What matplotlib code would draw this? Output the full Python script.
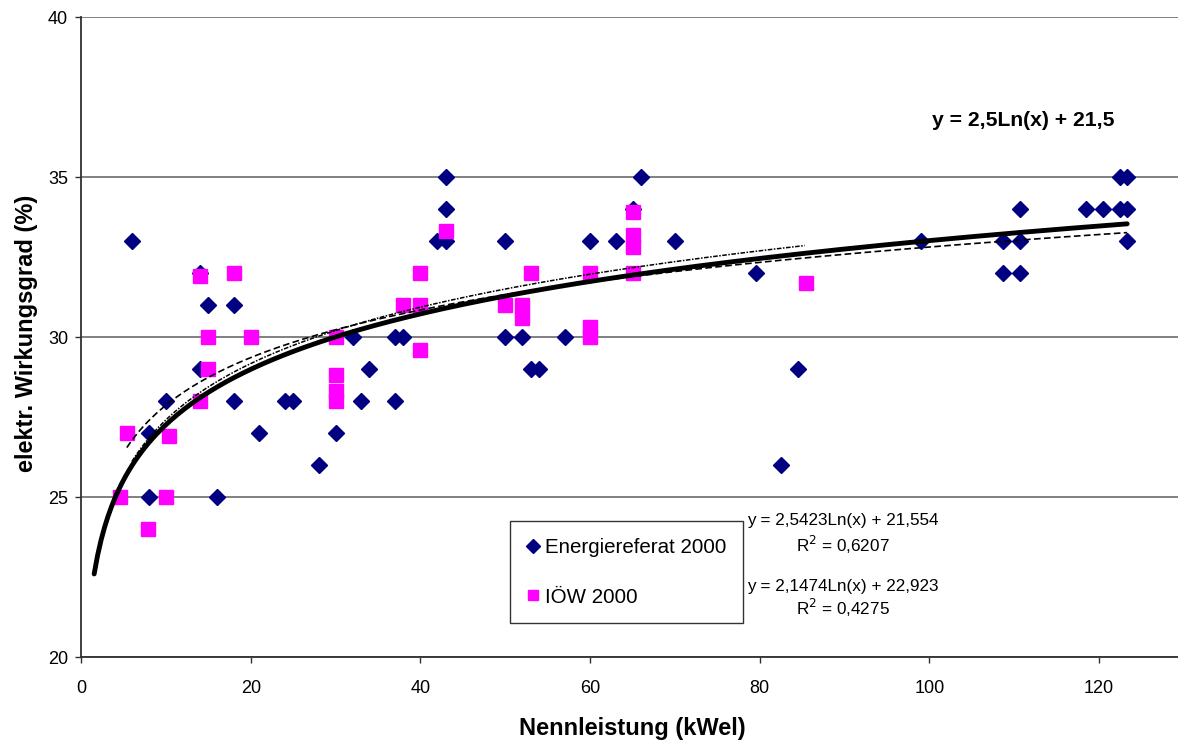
import numpy as np
import matplotlib
matplotlib.use('Agg')
import matplotlib.pyplot as plt

plt.rcParams['font.family'] = ['Liberation Sans', 'DejaVu Sans']

# Energiereferat 2000 (diamonds)
er_x = [6, 8, 8, 10, 14, 14, 15, 16, 18, 18, 21, 24, 25, 28, 30, 32, 33, 34, 37, 37, 38,
        42, 43, 43, 43, 50, 50, 52, 53, 54, 57, 60, 63, 65, 66, 70, 79.6, 82.5, 84.5,
        99, 108.7, 110.7, 108.7, 110.7, 110.7, 118.5, 120.4, 122.4, 123.3, 122.4, 123.3, 123.3]
er_y = [33, 27, 25, 28, 32, 29, 31, 25, 31, 28, 27, 28, 28, 26, 27, 30, 28, 29, 28, 30, 30,
        33, 33, 34, 35, 33, 30, 30, 29, 29, 30, 33, 33, 34, 35, 33, 32, 26, 29,
        33, 33, 33, 32, 32, 34, 34, 34, 34, 34, 35, 35, 33]

# IÖW 2000 (squares)
ioew_x = [4.6, 5.4, 7.9, 10, 10.4, 14, 14, 15, 15, 18, 20, 30, 30, 30, 30,
          38, 40, 40, 40, 43, 50, 52, 52, 53, 60, 60, 60, 65, 65, 65, 65, 85.5]
ioew_y = [25, 27, 24, 25, 26.9, 31.9, 28, 30, 29, 32, 30, 30, 28.8, 28.3, 28,
          31, 32, 31, 29.6, 33.3, 31, 31, 30.6, 32, 32, 30.3, 30, 33.9, 33.2, 32.8, 32, 31.7]

# trend lines: (a, b) for y = a*ln(x) + b, and x range drawn
main_fit = (2.5, 21.5)
main_range = (1.55, 123.3)
er_fit = (2.5423, 21.554)
er_range = (6, 85.3)
ioew_fit = (2.1474, 22.923)
ioew_range = (5.4, 123.3)

W, H = 1178, 740
fig = plt.figure(figsize=(W/100, H/100), dpi=100)
ax = fig.add_axes([81/W, 1-657/H, 1103/W, 640/H])

ax.plot(er_x, er_y, linestyle='none', marker='D', markersize=8.5, color='#000080', zorder=3)
ax.plot(ioew_x, ioew_y, linestyle='none', marker='s', markersize=9.5, color='#FF00FF', zorder=4)

def lnline(fit, rng):
    xs = np.linspace(rng[0], rng[1], 300)
    return xs, fit[0]*np.log(xs) + fit[1]

xs, ys = lnline(ioew_fit, ioew_range)
ax.plot(xs, ys, color='black', lw=1.2, linestyle=(0, (4, 2)), zorder=5)
xs, ys = lnline(er_fit, er_range)
ax.plot(xs, ys, color='black', lw=1.1, linestyle=(0, (3, 1, 1, 1)), zorder=5)
xs, ys = lnline(main_fit, main_range)
ax.plot(xs, ys, color='black', lw=3.5, solid_capstyle='round', zorder=6)

ax.set_xlim(0, 130)
ax.set_ylim(20, 40)
ax.set_xticks(range(0, 121, 20))
ax.set_yticks(range(20, 41, 5))
ax.tick_params(labelsize=13, length=4.3, width=1, color='#303030')
ax.tick_params(axis='x', pad=12)
ax.tick_params(axis='y', pad=5)
ax.yaxis.grid(True, color='#808080', lw=1.4)
ax.set_axisbelow(True)
for s in ['top', 'right']:
    ax.spines[s].set_visible(False)
for s in ['left', 'bottom']:
    ax.spines[s].set_color('#303030')
    ax.spines[s].set_linewidth(1.3)

fig.text(632/W, 1-728/H, 'Nennleistung (kWel)', fontsize=17, fontweight='bold',
         ha='center', va='center')
fig.text(27/W, 1-333/H, 'elektr. Wirkungsgrad (%)', fontsize=17, fontweight='bold',
         ha='center', va='center', rotation=90)

leg = ax.legend(['Energiereferat 2000', 'IÖW 2000'], loc='lower left',
                bbox_to_anchor=(429/1103, 34/640), fontsize=14.8, frameon=True,
                fancybox=False, handlelength=0.6, handletextpad=0.3,
                labelspacing=1.5, borderpad=0.8, borderaxespad=0, markerscale=0.8)
leg.get_frame().set_edgecolor('black')
leg.get_frame().set_linewidth(1)

fig.text(1023/W, 1-120/H, 'y = 2,5Ln(x) + 21,5', fontsize=15.2, fontweight='bold',
         ha='center', va='center')
fig.text(843/W, 1-521/H, 'y = 2,5423Ln(x) + 21,554', fontsize=12.3, ha='center', va='center')
fig.text(843/W, 1-545/H, 'R$^2$ = 0,6207', fontsize=12.3, ha='center', va='center')
fig.text(843/W, 1-587/H, 'y = 2,1474Ln(x) + 22,923', fontsize=12.3, ha='center', va='center')
fig.text(843/W, 1-608/H, 'R$^2$ = 0,4275', fontsize=12.3, ha='center', va='center')

fig.savefig('out.png', dpi=100)
